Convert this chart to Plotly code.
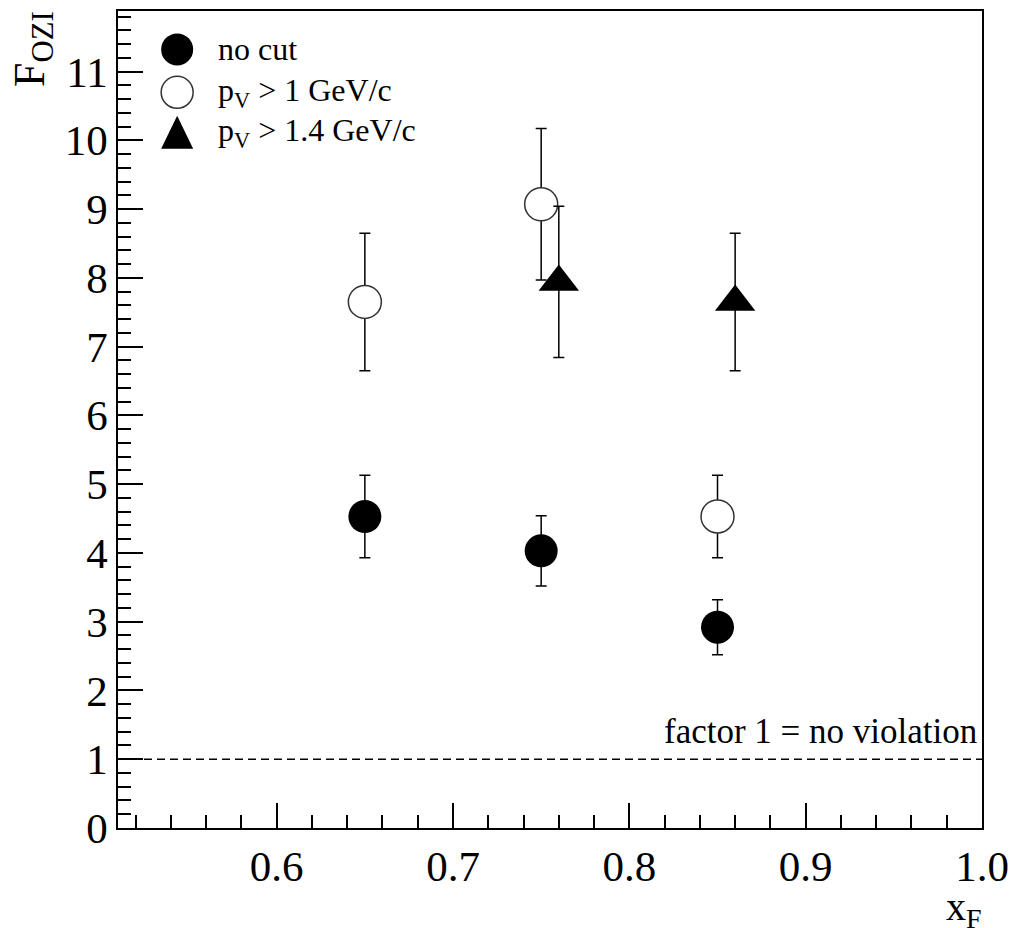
import plotly.graph_objects as go

# ---------------- data ----------------
xf_nocut = [0.65, 0.75, 0.85]
fozi_nocut = [4.53, 4.03, 2.92]
err_nocut = [0.60, 0.51, 0.40]

xf_pv1 = [0.65, 0.75, 0.85]
fozi_pv1 = [7.65, 9.07, 4.53]
err_pv1 = [1.00, 1.10, 0.60]

xf_pv14 = [0.76, 0.86]
fozi_pv14 = [7.94, 7.65]
err_pv14 = [1.10, 1.00]

legend_labels = ["no cut", "p<sub>V</sub> > 1 GeV/c", "p<sub>V</sub> > 1.4 GeV/c"]
x_ticks = [0.6, 0.7, 0.8, 0.9, 1.0]
x_ticktext = ["0.6", "0.7", "0.8", "0.9", "1.0"]
no_violation_level = 1
no_violation_text = "factor 1 = no violation"

# ---------------- layout geometry ----------------
W, H = 1018, 928
ML, MR, MT, MB = 118, 31, 9, 100
PW, PH = W - ML - MR, H - MT - MB
FONT = "Liberation Serif"
BLACK = "black"


def px2paper_x(px):
    return (px - ML) / PW


def px2paper_y(py):
    return (H - MB - py) / PH


fig = go.Figure()

err_style = dict(type="data", color=BLACK, thickness=1.5, width=5.5)

fig.add_trace(go.Scatter(
    x=xf_nocut, y=fozi_nocut, mode="markers", name=legend_labels[0],
    error_y=dict(array=err_nocut, **err_style),
    marker=dict(symbol="circle", size=33, color=BLACK, line=dict(width=0)),
))
fig.add_trace(go.Scatter(
    x=xf_pv1, y=fozi_pv1, mode="markers", name=legend_labels[1],
    error_y=dict(array=err_pv1, **err_style),
    marker=dict(symbol="circle", size=33, color="white", line=dict(width=1.5, color="#333")),
))
fig.add_trace(go.Scatter(
    x=xf_pv14, y=fozi_pv14, mode="markers", name=legend_labels[2],
    error_y=dict(array=err_pv14, **err_style),
    marker=dict(symbol="triangle-up", size=35, color=BLACK, line=dict(width=0)),
))

shapes = [
    dict(type="line", xref="paper", x0=0, x1=1, yref="y",
         y0=no_violation_level, y1=no_violation_level,
         line=dict(color=BLACK, width=1.3, dash="8px,5px"), layer="above"),
]

# hand-made legend (symbols as large as in the reference)
leg_px_x = 177.5
leg_px_y = [47.5, 90.5, 131.0]
leg_text_px_x = 217
shapes.append(dict(type="circle", xref="paper", yref="paper",
                   xsizemode="pixel", ysizemode="pixel",
                   xanchor=px2paper_x(leg_px_x), yanchor=px2paper_y(leg_px_y[0]),
                   x0=-16, x1=16, y0=-16, y1=16,
                   fillcolor=BLACK, line=dict(width=0)))
shapes.append(dict(type="circle", xref="paper", yref="paper",
                   xsizemode="pixel", ysizemode="pixel",
                   xanchor=px2paper_x(leg_px_x), yanchor=px2paper_y(leg_px_y[1]),
                   x0=-16, x1=16, y0=-16, y1=16,
                   fillcolor="white", line=dict(width=1.5, color="#333")))
shapes.append(dict(type="path", xref="paper", yref="paper",
                   xsizemode="pixel", ysizemode="pixel",
                   xanchor=px2paper_x(leg_px_x), yanchor=px2paper_y(leg_px_y[2]),
                   path="M -16,-16 L 16,-16 L 0,17 Z",
                   fillcolor=BLACK, line=dict(width=0)))

annotations = []
for lab, py in zip(legend_labels, leg_px_y):
    annotations.append(dict(
        text=lab, xref="paper", yref="paper",
        x=px2paper_x(leg_text_px_x), y=px2paper_y(py),
        xanchor="left", yanchor="middle", showarrow=False,
        font=dict(family=FONT, size=32, color=BLACK)))

annotations.append(dict(
    text=no_violation_text, xref="paper", yref="y",
    x=1, y=no_violation_level, xanchor="right", yanchor="bottom",
    xshift=-3, yshift=6, showarrow=False,
    font=dict(family=FONT, size=35, color=BLACK)))

annotations.append(dict(
    text="F<sub>OZI</sub>", xref="paper", yref="paper",
    x=0, y=1, xshift=-86, yshift=2, xanchor="center", yanchor="top",
    textangle=-90, showarrow=False,
    font=dict(family=FONT, size=44, color=BLACK)))

annotations.append(dict(
    text="x<sub>F</sub>", xref="paper", yref="paper",
    x=1, y=0, xshift=2, yshift=-54, xanchor="right", yanchor="top",
    showarrow=False,
    font=dict(family=FONT, size=40, color=BLACK)))

axis_common = dict(
    showline=True, linecolor=BLACK, linewidth=1.5, mirror=True,
    ticks="inside", tickwidth=1.5, tickcolor=BLACK, ticklen=25,
    showgrid=False, zeroline=False,
    tickfont=dict(family=FONT, size=43, color=BLACK),
)

fig.update_layout(
    width=W, height=H,
    margin=dict(l=ML, r=MR, t=MT, b=MB),
    paper_bgcolor="white", plot_bgcolor="white",
    showlegend=False,
    font=dict(family=FONT, color=BLACK),
    xaxis=dict(range=[0.51, 1.0], tickmode="array", tickvals=x_ticks, ticktext=x_ticktext,
               minor=dict(ticks="inside", ticklen=13, tickwidth=1.5, tickcolor=BLACK,
                          tick0=0.5, dtick=0.02),
               **axis_common),
    yaxis=dict(range=[0, 11.88], tick0=0, dtick=1,
               minor=dict(ticks="inside", ticklen=13, tickwidth=1.5, tickcolor=BLACK,
                          tick0=0, dtick=0.2),
               **axis_common),
    shapes=shapes,
    annotations=annotations,
)

fig.write_html("out.html")
